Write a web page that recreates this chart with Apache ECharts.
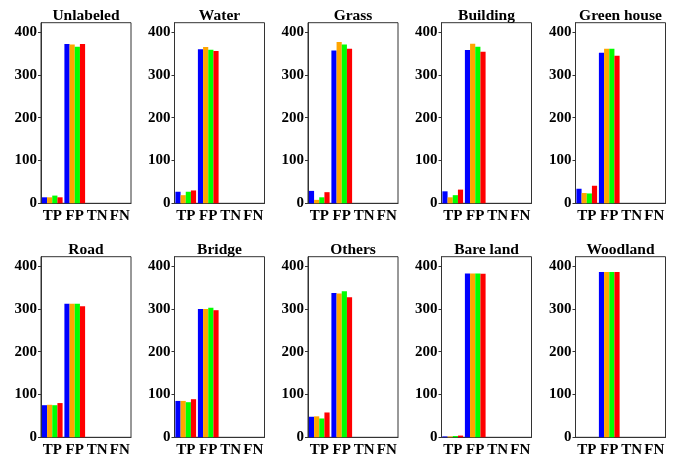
<!DOCTYPE html>
<html>
<head>
<meta charset="utf-8">
<script src="https://cdn.jsdelivr.net/npm/echarts@6/dist/echarts.min.js"></script>
<style>html,body{margin:0;padding:0;background:#fff}#c{width:678px;height:458px}</style>
</head>
<body>
<div id="c"></div>
<script>
const categories = ['TP', 'FP', 'TN', 'FN'];
const panelTitles = ['Unlabeled', 'Water', 'Grass', 'Building', 'Green house',
                     'Road', 'Bridge', 'Others', 'Bare land', 'Woodland'];
const yTicks = [0, 100, 200, 300, 400];
const seriesColors = ['#0000ff', '#ffa500', '#00ff00', '#ff0000'];

// values per panel: each row = one series (bar colour), columns = TP, FP, TN, FN
const unlabeled = [[14, 372, 0, 0], [14, 371, 0, 0], [18, 366, 0, 0], [14, 372, 0, 0]];
const water     = [[27, 360, 0, 0], [19, 365, 0, 0], [27, 359, 0, 0], [30, 356, 0, 0]];
const grass     = [[29, 357, 0, 0], [8, 377, 0, 0], [14, 371, 0, 0], [26, 361, 0, 0]];
const building  = [[28, 358, 0, 0], [14, 373, 0, 0], [19, 366, 0, 0], [32, 354, 0, 0]];
const greenHouse= [[34, 352, 0, 0], [24, 361, 0, 0], [23, 361, 0, 0], [41, 345, 0, 0]];
const road      = [[75, 312, 0, 0], [76, 312, 0, 0], [75, 312, 0, 0], [80, 306, 0, 0]];
const bridge    = [[85, 300, 0, 0], [85, 300, 0, 0], [82, 303, 0, 0], [89, 297, 0, 0]];
const others    = [[48, 337, 0, 0], [49, 336, 0, 0], [44, 341, 0, 0], [58, 327, 0, 0]];
const bareLand  = [[2, 383, 0, 0], [2, 383, 0, 0], [3, 383, 0, 0], [4, 382, 0, 0]];
const woodland  = [[0, 386, 0, 0], [0, 386, 0, 0], [0, 386, 0, 0], [0, 386, 0, 0]];
const panelData = [unlabeled, water, grass, building, greenHouse, road, bridge, others, bareLand, woodland];

const chart = echarts.init(document.getElementById('c'), null, {renderer: 'canvas'});
const FONT = 'Liberation Serif';
const colLefts = [41, 174.5, 308, 441.5, 575.5];
const panelW = 90, panelH = 180.6;
const rowTops = [22.7, 256.7];
const titleTops = [7.5, 241.5];

const grids = [], xAxes = [], yAxes = [], series = [], graphics = [];
panelData.forEach((pd, i) => {
  const r = Math.floor(i / 5), c = i % 5;
  grids.push({left: colLefts[c], top: rowTops[r], width: panelW, height: panelH,
    show: true, borderColor: '#333', borderWidth: 1, backgroundColor: '#fff'});
  xAxes.push({gridIndex: i, type: 'category', data: categories, boundaryGap: true,
    axisLine: {lineStyle: {color: '#333', width: 1}},
    axisTick: {alignWithLabel: true, length: 3, lineStyle: {color: '#333'}},
    axisLabel: {interval: 0, margin: 5, color: '#000', fontFamily: FONT, fontWeight: 'bold', fontSize: 15},
    splitLine: {show: false}});
  yAxes.push({gridIndex: i, type: 'value', min: 0, max: 422,
    axisLine: {show: true, lineStyle: {color: '#333', width: 1}},
    axisTick: {show: true, length: 3, customValues: yTicks, lineStyle: {color: '#333'}},
    axisLabel: {customValues: yTicks, margin: 4, color: '#000', fontFamily: FONT, fontWeight: 'bold', fontSize: 15},
    splitLine: {show: false}});
  graphics.push({type: 'text', x: colLefts[c] + panelW / 2, y: titleTops[r],
    style: {text: panelTitles[i], textAlign: 'center', textVerticalAlign: 'top',
      font: 'bold 15.5px "' + FONT + '"', fill: '#000'}});
  pd.forEach((vals, s) => {
    series.push({type: 'bar', xAxisIndex: i, yAxisIndex: i, data: vals,
      barGap: '0%', barCategoryGap: '8%',
      itemStyle: {color: seriesColors[s]}, silent: true, animation: false});
  });
});

chart.setOption({animation: false, graphic: graphics, grid: grids, xAxis: xAxes, yAxis: yAxes, series: series});
</script>
</body>
</html>
